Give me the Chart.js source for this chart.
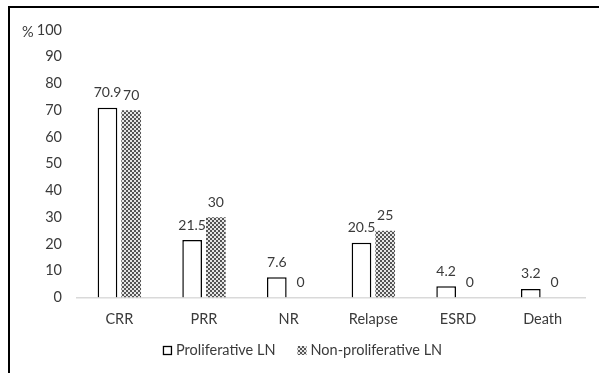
<!DOCTYPE html>
<html>
<head>
<meta charset="utf-8">
<script src="https://cdn.jsdelivr.net/npm/chart.js@4/dist/chart.umd.min.js"></script>
<style>
  html, body { margin: 0; padding: 0; background: #fff; }
  #wrap { position: relative; width: 599px; height: 373px; }
  #frame { position: absolute; left: 8px; top: 6px; right: 0; bottom: 0;
           border-left: 2px solid #000; border-top: 2px solid #000; pointer-events: none; }
  canvas { position: absolute; left: 0; top: 0; }
</style>
</head>
<body>
<div id="wrap">
  <canvas id="c" width="599" height="373"></canvas>
  <div id="frame"></div>
</div>
<script>
const categories = ['CRR', 'PRR', 'NR', 'Relapse', 'ESRD', 'Death'];
const proliferative = [70.9, 21.5, 7.6, 20.5, 4.2, 3.2];
const nonProliferative = [70, 30, 0, 25, 0, 0];
const seriesNames = ['Proliferative LN', 'Non-proliferative LN'];
const yTicks = [0, 10, 20, 30, 40, 50, 60, 70, 80, 90, 100];

const FONT = 'Lato, "Open Sans", sans-serif';
const TEXT = '#3a3a3a';

// small checkerboard fill for the second series
function checker() {
  const p = document.createElement('canvas');
  p.width = 4; p.height = 4;
  const g = p.getContext('2d');
  g.fillStyle = '#e6e6e6';
  g.fillRect(0, 0, 4, 4);
  g.fillStyle = '#555555';
  g.fillRect(0, 0, 2, 2);
  g.fillRect(2, 2, 2, 2);
  return g.createPattern(p, 'repeat');
}
const pattern = checker();

// value labels above each bar
const valueLabels = {
  id: 'valueLabels',
  afterDatasetsDraw(chart) {
    const ctx = chart.ctx;
    ctx.save();
    ctx.font = '14px ' + FONT;
    ctx.fillStyle = TEXT;
    ctx.textAlign = 'center';
    ctx.textBaseline = 'bottom';
    chart.data.datasets.forEach((ds, i) => {
      chart.getDatasetMeta(i).data.forEach((bar, j) => {
        ctx.fillText(String(ds.data[j]), bar.x, bar.y - 8);
      });
    });
    ctx.restore();
  }
};

// "%" unit written beside the top tick
const unitLabel = {
  id: 'unitLabel',
  afterDraw(chart) {
    const y = chart.scales.y.getPixelForValue(100);
    const ctx = chart.ctx;
    ctx.save();
    ctx.font = '14.5px ' + FONT;
    ctx.fillStyle = TEXT;
    ctx.textAlign = 'left';
    ctx.textBaseline = 'middle';
    ctx.fillText('%', 22, y + 2);
    ctx.restore();
  }
};

// legend row under the category labels
const legendRow = {
  id: 'legendRow',
  afterDraw(chart) {
    const ctx = chart.ctx;
    const area = chart.chartArea;
    ctx.save();
    ctx.font = '14.5px ' + FONT;
    ctx.textBaseline = 'middle';
    ctx.textAlign = 'left';
    const box = 9, gap = 4, itemGap = 22;
    const widths = seriesNames.map(t => ctx.measureText(t).width);
    const total = widths.reduce((a, w) => a + box + gap + w, 0) + itemGap;
    const cx = area.left + (area.right - area.left) * 0.444;
    let x = cx - total / 2;
    const y = area.bottom + 53;
    seriesNames.forEach((name, i) => {
      if (i === 0) {
        ctx.fillStyle = '#ffffff';
        ctx.fillRect(x, y - box / 2, box, box);
        ctx.strokeStyle = '#000000';
        ctx.lineWidth = 1.3;
        ctx.strokeRect(x + 0.5, y - box / 2 + 0.5, box - 1, box - 1);
      } else {
        ctx.fillStyle = pattern;
        ctx.fillRect(x, y - box / 2, box, box);
      }
      x += box + gap;
      ctx.fillStyle = TEXT;
      ctx.fillText(name, x, y);
      x += widths[i] + itemGap;
    });
    ctx.restore();
  }
};

new Chart(document.getElementById('c'), {
  type: 'bar',
  data: {
    labels: categories,
    datasets: [
      {
        label: seriesNames[0],
        data: proliferative,
        backgroundColor: '#ffffff',
        borderColor: '#000000',
        borderWidth: 1.5,
        borderSkipped: 'bottom',
        categoryPercentage: 0.56,
        barPercentage: 0.83
      },
      {
        label: seriesNames[1],
        data: nonProliferative,
        backgroundColor: pattern,
        borderWidth: 0,
        categoryPercentage: 0.56,
        barPercentage: 0.83
      }
    ]
  },
  options: {
    responsive: false,
    animation: false,
    devicePixelRatio: 1,
    layout: { padding: { left: 0, right: 14, top: 30, bottom: 45 } },
    plugins: {
      tooltip: { enabled: false },
      legend: { display: false }
    },
    scales: {
      x: {
        grid: { display: false, drawTicks: false },
        border: { color: '#d9d9d9', width: 1.5 },
        ticks: { font: { family: FONT, size: 14.5 }, color: TEXT, padding: 13 },
        afterFit(s) { s.height = 30.5; }
      },
      y: {
        min: 0, max: 100,
        afterBuildTicks(s) { s.ticks = yTicks.map(v => ({ value: v })); },
        grid: { display: false, drawTicks: false },
        border: { display: false },
        ticks: { font: { family: FONT, size: 14.5 }, color: TEXT, padding: 15 },
        afterFit(s) { s.width = 77; }
      }
    }
  },
  plugins: [valueLabels, unitLabel, legendRow]
});
</script>
</body>
</html>
